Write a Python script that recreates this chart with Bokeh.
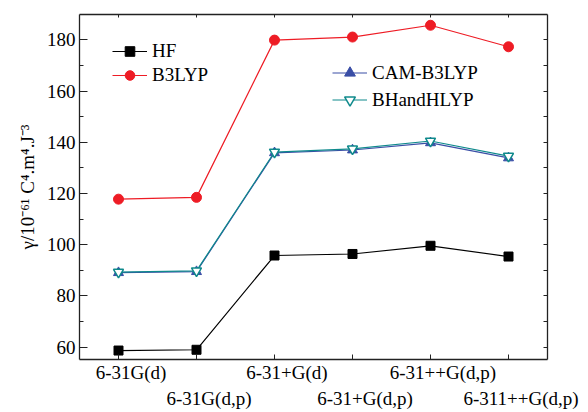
from bokeh.plotting import figure
from bokeh.models import (LinearAxis, FixedTicker, Legend, LegendItem, Range1d)
from bokeh.embed import file_html
from bokeh.resources import INLINE

categories = ["6-31G(d)", "6-31G(d,p)", "6-31+G(d)", "6-31+G(d,p)", "6-31++G(d,p)", "6-311++G(d,p)"]
x_pos = [1, 2, 3, 4, 5, 6]
hf = [58.7, 59.0, 95.8, 96.4, 99.6, 95.4]
b3lyp = [117.8, 118.5, 179.9, 181.1, 185.7, 177.3]
cam_b3lyp = [89.1, 89.5, 135.9, 137.0, 139.8, 133.9]
bhandhlyp = [89.3, 89.8, 136.2, 137.4, 140.5, 134.6]
y_major = [60, 80, 100, 120, 140, 160, 180]
y_all = [60, 70, 80, 90, 100, 110, 120, 130, 140, 150, 160, 170, 180]
ylabel = "γ/10⁻⁶¹ C⁴.m⁴.J⁻³"

FONT = "Liberation Serif"
RED = "#ee1c25"
BLUE = "#3a4ea6"
TEAL = "#0f8a8c"
AXC = "#222222"
LABEL_SHIFT = 0.16  # tick labels sit slightly right of their ticks in the reference

p = figure(width=588, height=412, output_backend="svg", toolbar_location=None,
           x_range=Range1d(0.5, 6.5), y_range=Range1d(55.2, 189.9),
           min_border_left=79, min_border_right=41, min_border_top=14, min_border_bottom=53,
           x_axis_location=None, y_axis_location=None)
p.xgrid.visible = False
p.ygrid.visible = False
p.outline_line_color = None
p.background_fill_color = "white"
p.border_fill_color = "white"

def style_axis(ax):
    ax.axis_line_color = AXC
    ax.axis_line_width = 1.3
    ax.major_tick_line_color = AXC
    ax.minor_tick_line_color = AXC
    ax.major_tick_out = 0
    ax.minor_tick_out = 0
    ax.major_label_text_font = FONT
    ax.major_label_text_font_size = "19px"
    ax.major_label_text_color = "black"

def hide_labels(ax):
    ax.major_label_text_alpha = 0
    ax.major_label_text_font_size = "1px"
    ax.major_label_standoff = 0

# bottom axis line + ticks
xb = LinearAxis(ticker=FixedTicker(ticks=x_pos))
style_axis(xb)
xb.major_tick_in = 5
hide_labels(xb)
p.add_layout(xb, "below")

def label_row(cats, xs, standoff):
    ticks = [x + LABEL_SHIFT for x in xs]
    ax = LinearAxis(ticker=FixedTicker(ticks=ticks))
    style_axis(ax)
    ax.axis_line_alpha = 0
    ax.major_tick_in = 0
    ax.major_tick_line_alpha = 0
    ax.major_label_overrides = {t: c for t, c in zip(ticks, cats)}
    ax.major_label_standoff = standoff
    return ax

p.add_layout(label_row(categories[0::2], x_pos[0::2], 2), "below")
p.add_layout(label_row(categories[1::2], x_pos[1::2], 2), "below")

# top axis
xt = LinearAxis(ticker=FixedTicker(ticks=x_pos))
style_axis(xt)
xt.major_tick_in = 3
hide_labels(xt)
p.add_layout(xt, "above")

# left axis
yl = LinearAxis(ticker=FixedTicker(ticks=y_major, minor_ticks=y_all))
style_axis(yl)
yl.major_tick_in = 8
yl.minor_tick_in = 4
yl.major_label_standoff = 4
yl.axis_label = ylabel
yl.axis_label_text_font = FONT
yl.axis_label_text_font_size = "19px"
yl.axis_label_text_font_style = "normal"
yl.axis_label_text_color = "black"
yl.axis_label_standoff = 6
p.add_layout(yl, "left")

# right axis
yr = LinearAxis(ticker=FixedTicker(ticks=y_all))
style_axis(yr)
yr.major_tick_in = 4
hide_labels(yr)
p.add_layout(yr, "right")

l_hf = p.line(x_pos, hf, line_color="black", line_width=1.2)
s_hf = p.scatter(x_pos, hf, marker="square", size=9, fill_color="black", line_color="black")
l_b3 = p.line(x_pos, b3lyp, line_color=RED, line_width=1.2)
s_b3 = p.scatter(x_pos, b3lyp, marker="circle", size=10, fill_color=RED, line_color=RED)
l_cam = p.line(x_pos, cam_b3lyp, line_color=BLUE, line_width=1.2)
s_cam = p.scatter(x_pos, cam_b3lyp, marker="triangle", size=10, fill_color=BLUE, line_color=BLUE)
l_bh = p.line(x_pos, bhandhlyp, line_color=TEAL, line_width=1.2)
s_bh = p.scatter(x_pos, bhandhlyp, marker="inverted_triangle", size=10, fill_color="white",
                 line_color=TEAL, line_width=1.5)

def make_legend(items, loc, gh):
    return Legend(items=items, location=loc, glyph_width=35, glyph_height=gh, label_height=gh,
                  spacing=0, padding=0, margin=0, label_standoff=5,
                  border_line_alpha=0, background_fill_alpha=0,
                  label_text_font=FONT, label_text_font_size="19px", label_text_color="black")

leg1 = make_legend([LegendItem(label="HF", renderers=[l_hf, s_hf]),
                    LegendItem(label="B3LYP", renderers=[l_b3, s_b3])], (33, 272), 24)
leg2 = make_legend([LegendItem(label="CAM-B3LYP", renderers=[l_cam, s_cam]),
                    LegendItem(label="BHandHLYP", renderers=[l_bh, s_bh])], (253, 246), 27)
p.add_layout(leg1)
p.add_layout(leg2)

open("out.html", "w").write(file_html(p, INLINE))
